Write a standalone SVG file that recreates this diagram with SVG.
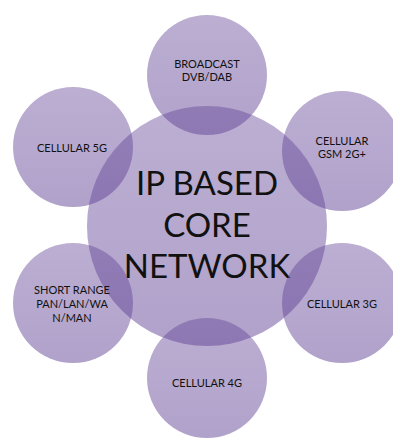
<svg xmlns="http://www.w3.org/2000/svg" width="393" height="438" viewBox="0 0 393 438">
<defs>
<linearGradient id="g" x1="0" y1="0" x2="0" y2="1">
<stop offset="0" stop-color="rgb(98,68,150)" stop-opacity="0.43"/>
<stop offset="1" stop-color="rgb(98,68,150)" stop-opacity="0.5"/>
</linearGradient>
</defs>
<style>
circle{fill:url(#g)}
text{font-family:Lato,"Open Sans","Liberation Sans",sans-serif;fill:#111;text-anchor:middle}
.s{font-size:11px}
.c{font-size:33px}
</style>
<rect width="393" height="438" fill="#fff"/>
<g id="core"><circle cx="207" cy="226" r="120"/>
<text class="c" x="207" y="195">IP BASED</text>
<text class="c" x="207" y="237">CORE</text>
<text class="c" x="207" y="278">NETWORK</text></g>
<g id="broadcast"><circle cx="207" cy="75" r="60"/>
<text class="s" x="207" y="68">BROADCAST</text>
<text class="s" x="207" y="81">DVB/DAB</text></g>
<g id="gsm"><circle cx="342" cy="151" r="60"/>
<text class="s" x="342" y="145">CELLULAR</text>
<text class="s" x="342" y="158">GSM 2G+</text></g>
<g id="c3g"><circle cx="342" cy="303" r="60"/>
<text class="s" x="342" y="308">CELLULAR 3G</text></g>
<g id="c4g"><circle cx="207" cy="378" r="60"/>
<text class="s" x="207" y="387">CELLULAR 4G</text></g>
<g id="short"><circle cx="73" cy="303" r="60"/>
<text class="s" x="72" y="294">SHORT RANGE</text>
<text class="s" x="72" y="308">PAN/LAN/WA</text>
<text class="s" x="72" y="322">N/MAN</text></g>
<g id="c5g"><circle cx="73" cy="147" r="60"/>
<text class="s" x="72" y="152">CELLULAR 5G</text></g>
<g id="connectors"/>
</svg>
